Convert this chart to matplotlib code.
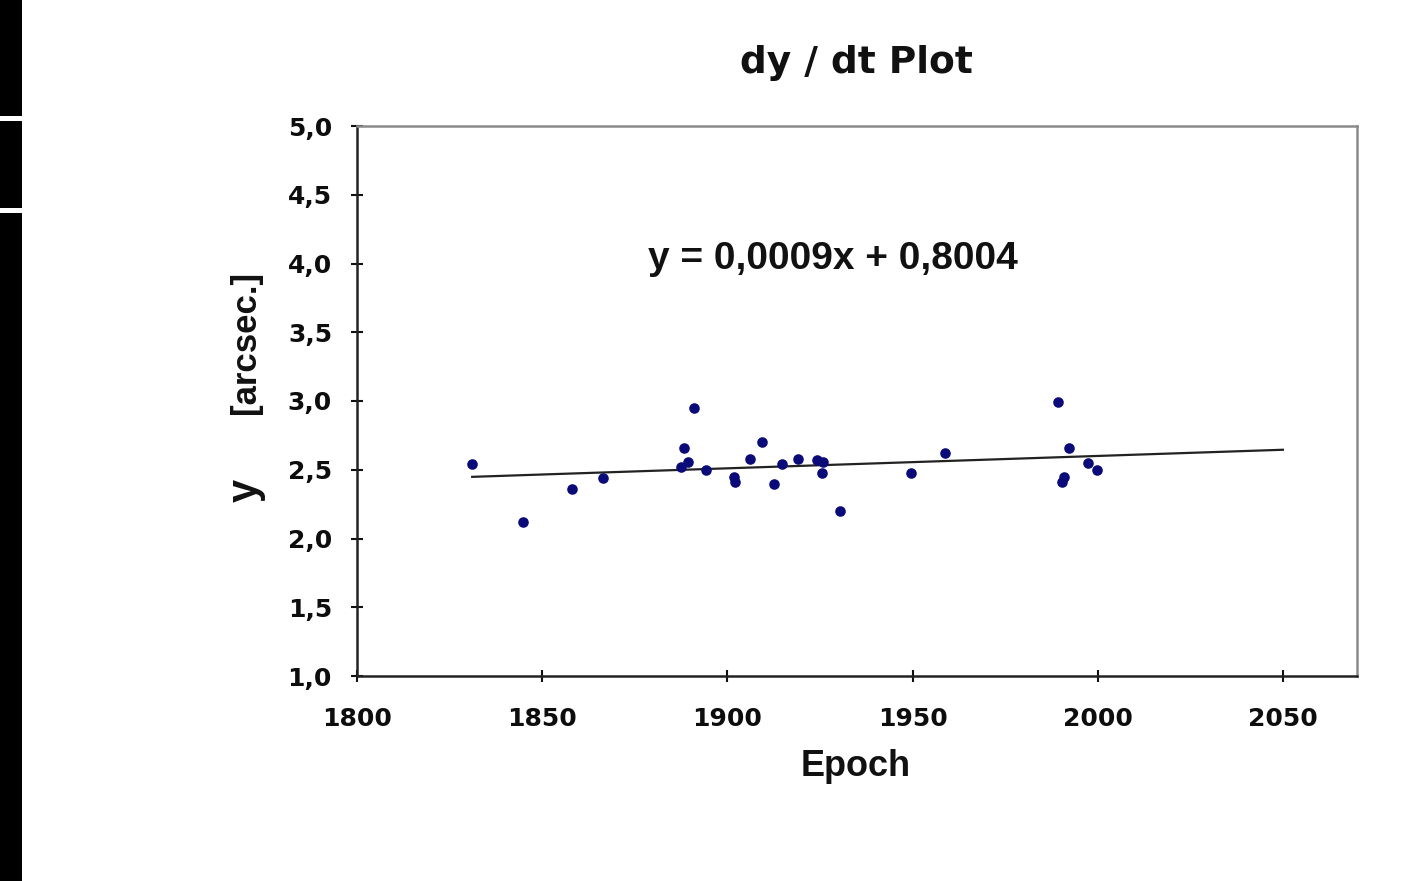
import matplotlib
matplotlib.use("Agg")
import matplotlib.pyplot as plt
from matplotlib.patches import Rectangle
import numpy as np

# Data
epochs = [1831.1, 1844.9, 1858.0, 1866.5, 1887.5, 1888.4, 1889.5, 1891.0, 1894.1,
          1901.8, 1902.0, 1906.1, 1909.3, 1912.7, 1914.8, 1919.0, 1924.1, 1925.9,
          1925.5, 1930.4, 1949.6, 1958.7, 1989.2, 1990.3, 1991.0, 1992.3, 1997.4,
          1999.7]
values = [2.54, 2.12, 2.36, 2.44, 2.52, 2.66, 2.56, 2.95, 2.50,
          2.45, 2.41, 2.58, 2.70, 2.40, 2.54, 2.58, 2.57, 2.56,
          2.48, 2.20, 2.48, 2.62, 2.99, 2.41, 2.45, 2.66, 2.55,
          2.50]
slope = 0.0009
intercept = 0.8004
trend_end = 2050
x_ticks = [1800, 1850, 1900, 1950, 2000, 2050]
y_ticks = [1.0, 1.5, 2.0, 2.5, 3.0, 3.5, 4.0, 4.5, 5.0]
title = "dy / dt Plot"
equation = "y = 0,0009x + 0,8004"

W, H = 1420, 881
fig = plt.figure(figsize=(W / 100, H / 100), dpi=100)
fig.patch.set_facecolor("white")

# left black strip (screen artifact in reference)
fig.add_artist(Rectangle((0, 0), 22 / W, 1, transform=fig.transFigure,
                         facecolor="black", edgecolor="none"))
for yy in (118, 210):
    fig.add_artist(Rectangle((0, 1 - (yy + 3) / H), 22 / W, 5 / H,
                             transform=fig.transFigure, facecolor="white",
                             edgecolor="none"))

ax = fig.add_axes([357 / W, 1 - 676 / H, 1000 / W, 550 / H])
ax.set_xlim(1800, 2070)
ax.set_ylim(1.0, 5.0)

ax.scatter(epochs, values, s=58, color="#0a0a78", zorder=3, linewidths=0)
tx = np.array([min(epochs), trend_end])
ax.plot(tx, slope * tx + intercept, color="#222222", lw=1.6, zorder=2)

ax.set_xticks(x_ticks)
ax.set_yticks(y_ticks)
ax.set_xticklabels([str(t) for t in x_ticks])
ax.set_yticklabels([f"{t:.1f}".replace(".", ",") for t in y_ticks])

for lab in ax.get_xticklabels() + ax.get_yticklabels():
    lab.set_fontfamily("DejaVu Sans")
    lab.set_fontweight("bold")
    lab.set_fontsize(18)
    lab.set_color("#0d0d0d")

ax.tick_params(axis="both", direction="inout", length=8, width=1.5,
               color="#111111")
ax.tick_params(axis="x", pad=18)
ax.tick_params(axis="y", pad=14)

for side in ("left", "bottom"):
    ax.spines[side].set_color("#222222")
    ax.spines[side].set_linewidth(1.8)
for side in ("top", "right"):
    ax.spines[side].set_color("#8a8a8a")
    ax.spines[side].set_linewidth(1.8)

ax.text(1928.5, 4.03, equation, ha="center", va="center",
        family="Liberation Sans", weight="bold", size=28, color="#111111")

fig.text(856 / W, 1 - 63 / H, title, ha="center", va="center",
         family="DejaVu Sans", weight="bold", size=27, color="#111111")
fig.text(856 / W, 1 - 766 / H, "Epoch", ha="center", va="center",
         family="Liberation Sans", weight="bold", size=26, color="#111111")
fig.text(246 / W, 1 - 342 / H, "[arcsec.]", ha="center", va="center",
         rotation=90, family="Liberation Sans", weight="bold", size=25,
         color="#111111")
fig.text(246 / W, 1 - 490 / H, "y", ha="center", va="center",
         rotation=90, family="Liberation Sans", weight="bold", size=30,
         color="#111111")

fig.savefig("out.png", dpi=100, facecolor="white")
